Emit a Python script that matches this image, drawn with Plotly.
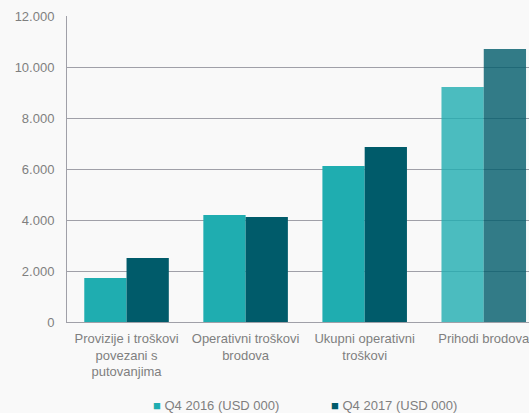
import plotly.graph_objects as go

categories = ["Provizije i troškovi<br>povezani s<br>putovanjima",
              "Operativni troškovi<br>brodova",
              "Ukupni operativni<br>troškovi",
              "Prihodi brodova"]
q4_2016 = [1725, 4195, 6120, 9215]
q4_2017 = [2510, 4120, 6865, 10705]
series_names = ["Q4 2016 (USD 000)", "Q4 2017 (USD 000)"]
series_colors = ["#1fadb0", "#005b6a"]
y_ticks = [0, 2000, 4000, 6000, 8000, 10000, 12000]
y_tick_labels = ["0", "2.000", "4.000", "6.000", "8.000", "10.000", "12.000"]

opac = [1, 1, 1, 0.8]
fig = go.Figure()
for vals, name, col in zip([q4_2016, q4_2017], series_names, series_colors):
    fig.add_trace(go.Bar(x=list(range(len(categories))), y=vals, name=name,
                         marker=dict(color=col, opacity=opac, line=dict(width=0))))

# legend drawn as text entries below the chart
legend_x = [0.1818, 0.5671]
for lx, name, col in zip(legend_x, series_names, series_colors):
    fig.add_annotation(xref="paper", yref="paper", x=lx, y=-0.2745,
                       xanchor="left", yanchor="middle", showarrow=False,
                       text=f"<span style='color:{col}'>■</span> {name}",
                       font=dict(size=13, color="#7f7f7f"))

fig.update_layout(
    width=529, height=413,
    margin=dict(l=67, r=0, t=16, b=91),
    paper_bgcolor="#f9f9f9", plot_bgcolor="#f9f9f9",
    barmode="group", bargap=0.29, bargroupgap=0,
    font=dict(family="Liberation Sans, Arial", size=13, color="#7f7f7f"),
    showlegend=False,
    xaxis=dict(range=[-0.5, 3.38], tickmode="array", tickvals=list(range(len(categories))),
               ticktext=categories, showgrid=False, showline=True, linecolor="#a0a0a8",
               linewidth=1, ticks="", zeroline=False, ticklabelstandoff=4,
               ticklabeloverflow="allow"),
    yaxis=dict(range=[0, 12000], tickmode="array", tickvals=y_ticks, ticktext=y_tick_labels,
               showgrid=True, gridcolor="#a0a0a8", gridwidth=1, showline=True,
               linecolor="#a0a0a8", linewidth=1, zeroline=False, ticks="",
               ticklabelstandoff=9),
)
fig.write_html("out.html", config={"displayModeBar": False},
               post_script="document.body.style.margin='0';document.body.style.background='#f9f9f9';")
